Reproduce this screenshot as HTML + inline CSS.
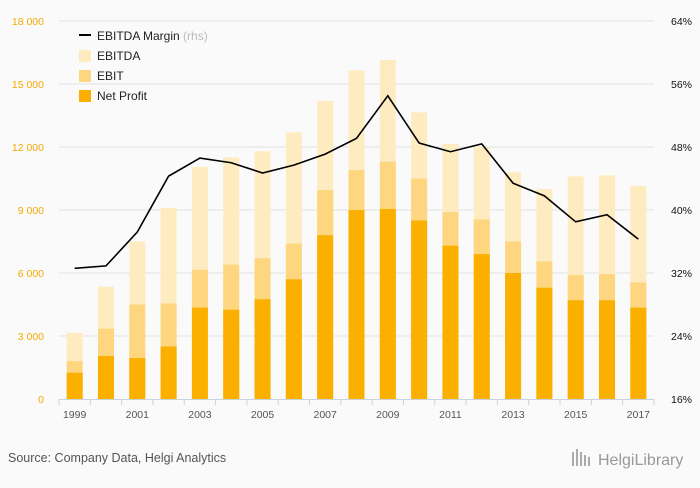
<!DOCTYPE html>
<html><head><meta charset="utf-8"><style>
body{margin:0;background:#fafafa;font-family:"Liberation Sans",sans-serif}
svg text{font-family:"Liberation Sans",sans-serif}
</style></head><body>
<svg id="c" width="700" height="483" viewBox="0 0 700 483">
<rect width="700" height="483" fill="#fafafa"/>
<g id="grid"></g><g id="bars"></g><g id="axes"></g>
<polyline id="line" fill="none" stroke="#000" stroke-width="1.6"/>
<g>
<line x1="79" y1="35" x2="91" y2="35" stroke="#000" stroke-width="2"/>
<text x="97" y="40" font-size="12" fill="#222">EBITDA Margin <tspan fill="#bbb">(rhs)</tspan></text>
<rect x="79" y="50" width="12" height="12" fill="#ffebc0"/>
<text x="97" y="60" font-size="12" fill="#222">EBITDA</text>
<rect x="79" y="70" width="12" height="12" fill="#fed67f"/>
<text x="97" y="80" font-size="12" fill="#222">EBIT</text>
<rect x="79" y="90" width="12" height="12" fill="#fbb000"/>
<text x="97" y="100" font-size="12" fill="#222">Net Profit</text>
</g>
<text x="8" y="462" font-size="12.5" fill="#555">Source: Company Data, Helgi Analytics</text>
<text x="598" y="465" font-size="16" fill="#999" font-family="Liberation Serif">HelgiLibrary</text>
<g fill="#aaa"><rect x="572" y="452" width="2" height="14"/><rect x="576" y="449" width="2" height="17"/><rect x="580" y="452" width="2" height="14"/><rect x="584" y="455" width="2" height="11"/><rect x="588" y="457" width="2" height="9"/></g>
</svg>
<script>
const years=[1999,2000,2001,2002,2003,2004,2005,2006,2007,2008,2009,2010,2011,2012,2013,2014,2015,2016,2017];
const netProfit=[1250,2050,1950,2500,4350,4250,4750,5700,7800,9000,9050,8500,7300,6900,6000,5300,4700,4700,4350];
const ebit=[1800,3350,4500,4550,6150,6400,6700,7400,9950,10900,11300,10500,8900,8550,7500,6550,5900,5950,5550];
const ebitda=[3150,5350,7500,9100,11050,11500,11800,12700,14200,15650,16150,13650,12150,12000,10800,10000,10600,10650,10150];
const margin=[32.6,32.9,37.2,44.3,46.6,46.0,44.7,45.7,47.1,49.1,54.5,48.5,47.4,48.4,43.4,41.8,38.5,39.4,36.3];
const leftTicks=[0,3000,6000,9000,12000,15000,18000];
const rightTicks=[16,24,32,40,48,56,64];
const NS="http://www.w3.org/2000/svg";
const x0=59,x1=654,yb=399,yt=21;
const step=(x1-x0)/years.length;
const xc=i=>x0+step*(i+0.5);
const yL=v=>yb-(v/18000)*(yb-yt);
const yR=v=>yb-((v-16)/48)*(yb-yt);
function mk(t,a,p){const e=document.createElementNS(NS,t);for(const k in a)e.setAttribute(k,a[k]);p.appendChild(e);return e;}
const grid=document.getElementById('grid'),bars=document.getElementById('bars'),axes=document.getElementById('axes');
leftTicks.forEach((v,i)=>{
 if(v>0){const l=mk('line',{x1:x0,x2:x1,y1:yL(v),y2:yL(v),stroke:'#e2e2e2'},grid);
 
 }
 const t=mk('text',{x:44,y:yL(v)+4,'text-anchor':'end','font-size':'10.5',fill:'#f6a800'},axes);
 t.textContent=v===0?'0':(v/1000)+' 000';
 
 
});
rightTicks.forEach(v=>{
 const t=mk('text',{x:692,y:yR(v)+4,'text-anchor':'end','font-size':'10.5',fill:'#111'},axes);
 t.textContent=v+'%';
 
 
});
const bw=16;
years.forEach((y,i)=>{
 [[ebitda,'#ffebc0','bar-ebitda'],[ebit,'#fed67f','bar-ebit'],[netProfit,'#fbb000','bar-net-profit']].forEach(([arr,c,n])=>{
  const r=mk('rect',{x:xc(i)-bw/2,y:yL(arr[i]),width:bw,height:yb-yL(arr[i]),fill:c},bars);
  
  
 });
});
const ax=mk('line',{x1:x0,x2:x1,y1:yb+0.5,y2:yb+0.5,stroke:'#c8d2e0'},axes);


for(let i=0;i<=years.length;i++){
 const tk=mk('line',{x1:x0+step*i,x2:x0+step*i,y1:yb,y2:yb+6,stroke:'#c8d2e0'},axes);
 
 
}
years.forEach((y,i)=>{if(i%2===0){
 const t=mk('text',{x:xc(i),y:418,'text-anchor':'middle','font-size':'10.5',fill:'#555'},axes);
 t.textContent=y;
 
 
}});
document.getElementById('line').setAttribute('points',margin.map((m,i)=>xc(i)+','+yR(m)).join(' '));
</script>
</body></html>
